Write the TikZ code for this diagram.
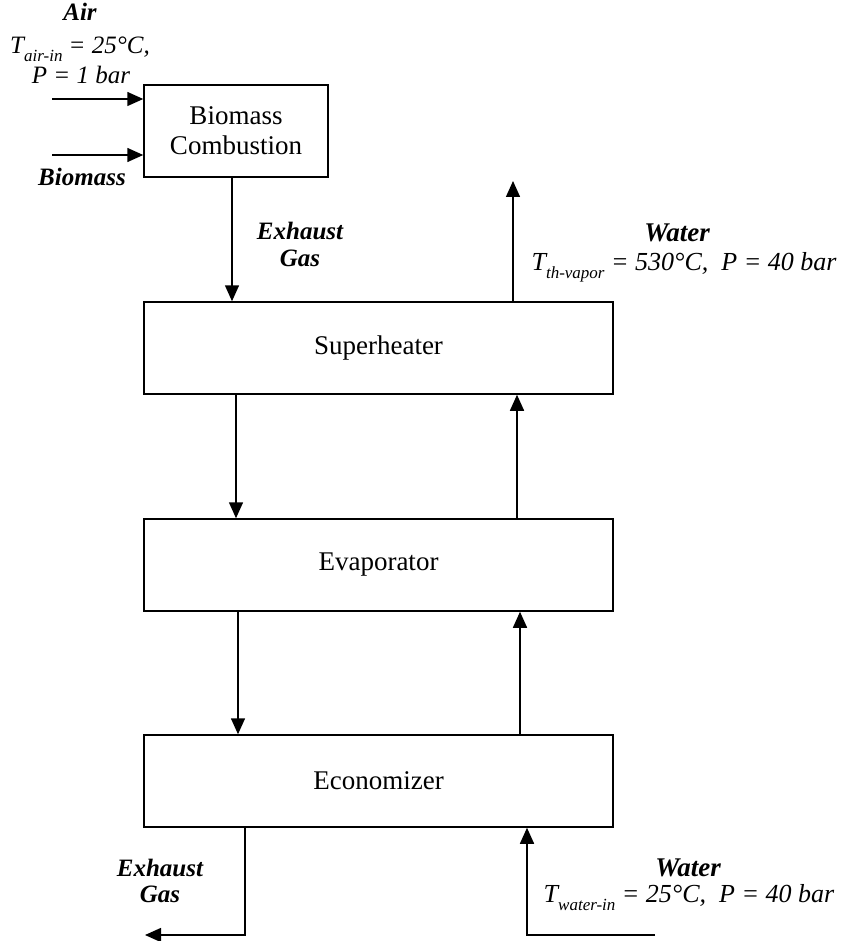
\documentclass[tikz,border=0pt]{standalone}
\usepackage{fontspec}
\setmainfont{Liberation Serif}
\usetikzlibrary{arrows.meta}
\newcommand{\lowidx}[1]{\raisebox{-0.32em}{\fontsize{17}{17}\selectfont #1}}

\begin{document}
\begin{tikzpicture}[x=1pt,y=-1pt,
  unit/.style={draw,line width=1.5pt,minimum height=92pt,inner sep=0pt,align=center,font=\fontsize{27}{30}\selectfont},
  flow/.style={line width=1.5pt,-{Triangle[length=16pt,width=14pt]}},
  stream/.style={anchor=base,font=\fontsize{25}{27}\selectfont\bfseries\itshape},
  cond/.style={anchor=base,font=\fontsize{26}{28}\selectfont\itshape}]
% Parameters
\def\boxW{469};
\def\boxX{378.5};
\def\inX{52};

% Frame
\useasboundingbox (0,0) rectangle (843,941);

% Units
\node[unit,minimum width=184pt] (comb) at (236,131) {Biomass\\Combustion};
\node[unit,minimum width=\boxW pt] (sup) at (\boxX,348) {Superheater};
\node[unit,minimum width=\boxW pt] (eva) at (\boxX,565) {Evaporator};
\node[unit,minimum width=\boxW pt] (eco) at (\boxX,781) {Economizer};

% Free ends
\coordinate (airIn) at (\inX,99);
\coordinate (bioIn) at (\inX,155);
\coordinate (vapOut) at (513,181);
\coordinate (gasOut) at (145,935);
\coordinate (waterIn) at (655,935);

% Inlets
\draw[flow] (airIn) -- (airIn -| comb.west); % air
\draw[flow] (bioIn) -- (bioIn -| comb.west); % biomass

% Gas side
\draw[flow] (232,0 |- comb.south) -- (232,0 |- sup.north);
\draw[flow] (236,0 |- sup.south) -- (236,0 |- eva.north);
\draw[flow] (238,0 |- eva.south) -- (238,0 |- eco.north);
\draw[flow] (245,0 |- eco.south) |- (gasOut);

% Water side
\draw[flow] (waterIn) -| (527,0 |- eco.south);
\draw[flow] (520,0 |- eco.north) -- (520,0 |- eva.south);
\draw[flow] (517,0 |- eva.north) -- (517,0 |- sup.south);
\draw[flow] (513,0 |- sup.north) -- (vapOut);

% Labels
\node[stream] (airLbl) at (80,21) {Air};
\node[cond,font=\fontsize{25}{27}\selectfont\itshape] (airT) at (80,54) {T\lowidx{air-in} = 25°C,};
\node[cond,font=\fontsize{25}{27}\selectfont\itshape] (airP) at (81,84) {P = 1 bar};
\node[stream] (bioLbl) at (82,186) {Biomass};
\node[stream] (gasLblA) at (300,240) {Exhaust};
\node[stream] (gasLblB) at (300,266) {Gas};
\node[stream,font=\fontsize{27}{29}\selectfont\bfseries\itshape] (vapLbl) at (677,241) {Water};
\node[cond] (vapT) at (684,270) {T\lowidx{th-vapor} = 530°C,\ \ P = 40 bar};
\node[stream] (outLblA) at (160,876) {Exhaust};
\node[stream] (outLblB) at (160,902) {Gas};
\node[stream,font=\fontsize{27}{29}\selectfont\bfseries\itshape] (inLbl) at (688,876) {Water};
\node[cond] (inT) at (689,902) {T\lowidx{water-in} = 25°C,\ \ P = 40 bar};

\end{tikzpicture}
\end{document}
